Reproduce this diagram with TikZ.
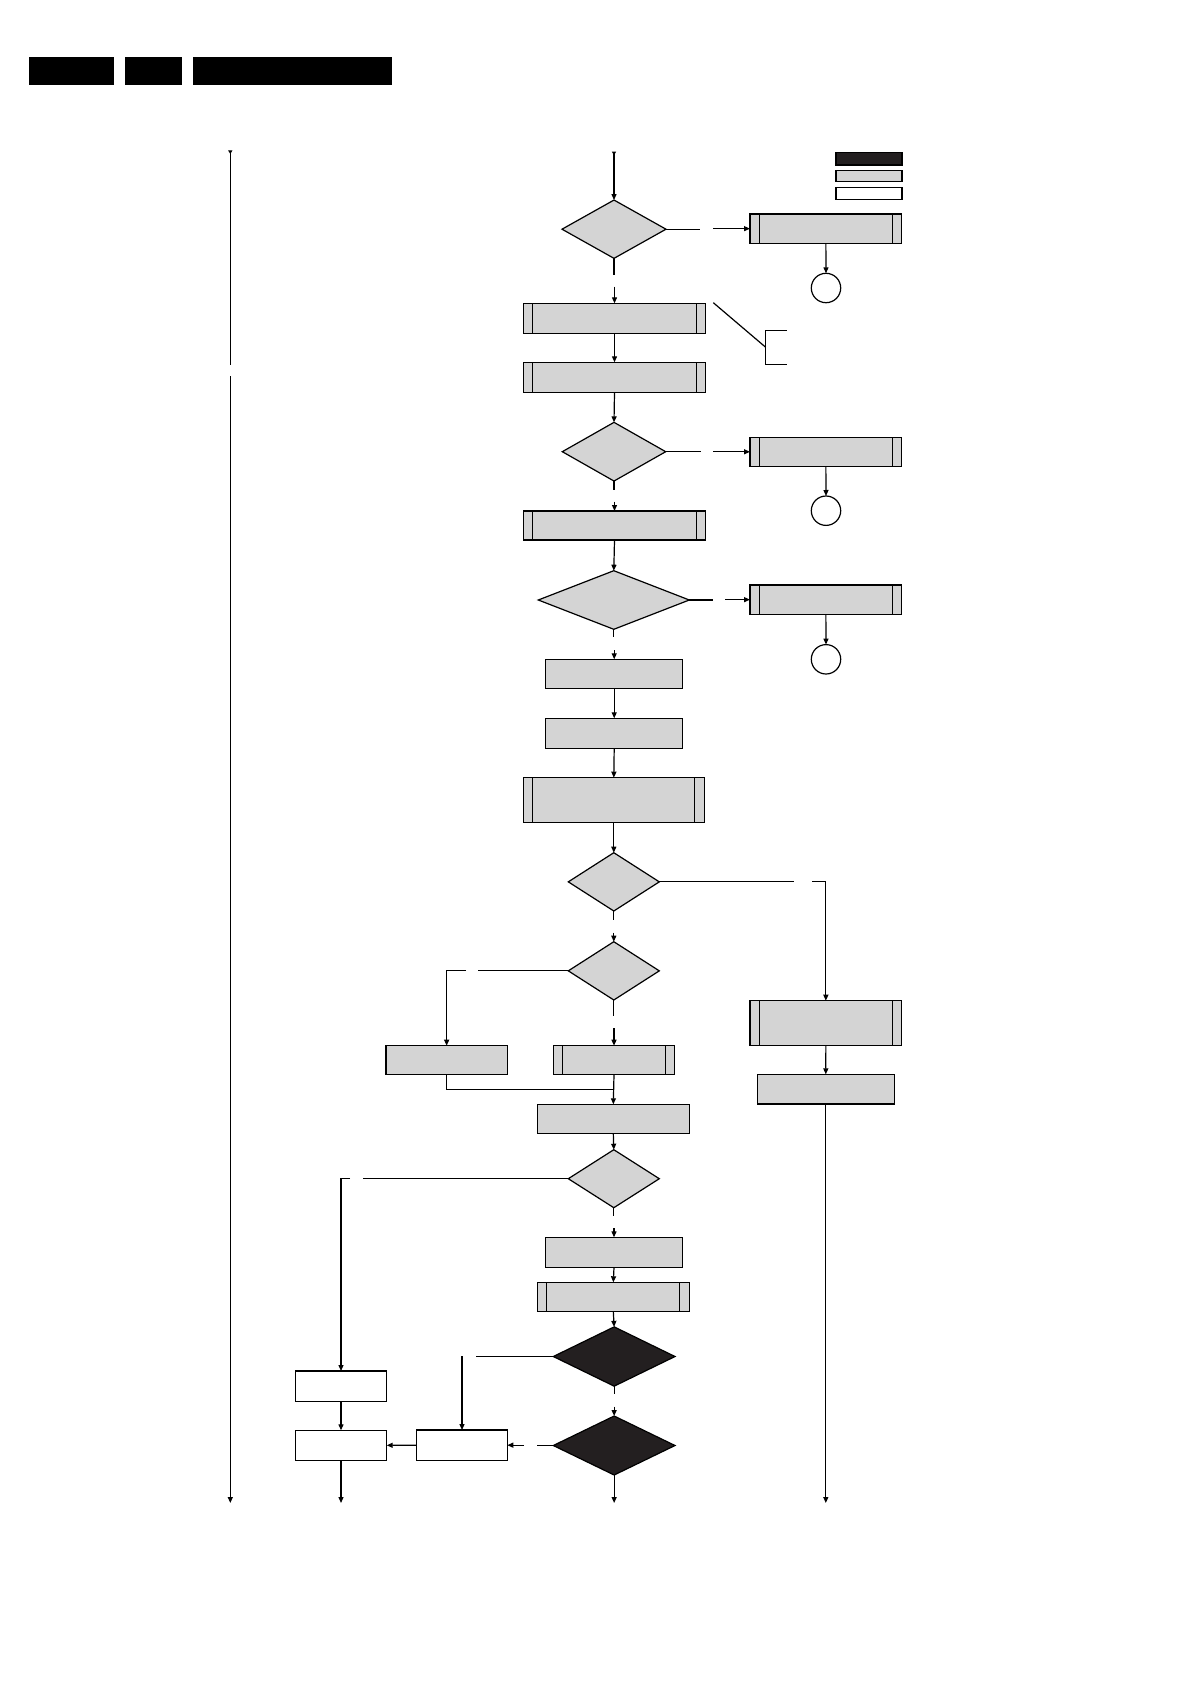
\documentclass[tikz,border=0pt]{standalone}
\usetikzlibrary{shapes.geometric,arrows.meta}
\definecolor{boxgray}{RGB}{212,212,212}
\definecolor{diadark}{RGB}{35,31,32}
\begin{document}
\begin{tikzpicture}[x=1pt,y=-1pt,line width=1.2pt,
  every node/.style={inner sep=0pt,outer sep=0pt},
  sz/.style 2 args={minimum width=#1pt,minimum height=#2pt},
  gbox/.style={draw,fill=boxgray,rectangle},
  wbox/.style={draw,fill=white,rectangle},
  pp/.style={gbox,path picture={\draw[line width=1.2pt]
      ([xshift=9.5pt]path picture bounding box.north west) -- ([xshift=9.5pt]path picture bounding box.south west)
      ([xshift=-9.5pt]path picture bounding box.north east) -- ([xshift=-9.5pt]path picture bounding box.south east);}},
  dia/.style={diamond,draw,fill=boxgray},
  bdia/.style={diamond,draw,fill=diadark},
  circ/.style={circle,draw,fill=white,minimum size=29.4pt},
  arr/.style={-{Triangle[length=6pt,width=5pt]}},
  tarr/.style={{Triangle[length=3.5pt,width=4pt,reversed]}-{Triangle[length=6pt,width=5pt]}},
  tline/.style={{Triangle[length=3.5pt,width=4pt,reversed]}-}
]
\useasboundingbox (0,0) rectangle (1192,1685);
% header bars
\node[fill=black,sz={85}{28.3}] (h1) at (71.5,70.85) {};
\node[fill=black,sz={57}{28.3}] (h2) at (153.5,70.85) {};
\node[fill=black,sz={199}{28.3}] (h3) at (292.5,70.85) {};
% legend
\node[draw,fill=diadark,sz={66}{12.7}] (legB) at (869,158.7) {};
\node[gbox,sz={66}{11.4}] (legG) at (869,176) {};
\node[wbox,sz={66}{12}] (legW) at (869,193.3) {};
% main column
\node[dia,sz={104}{58.3}] (d1) at (614,229.2) {};
\node[pp,sz={151.7}{29.3}] (r1) at (825.85,228.65) {};
\node[circ] (c1) at (826,288) {};
\node[pp,sz={182.4}{30}] (A) at (614.5,318.3) {};
\node[pp,sz={182.4}{30}] (B) at (614.5,377.3) {};
\node[dia,sz={103.4}{58.7}] (d2) at (614,451.7) {};
\node[pp,sz={151.7}{29}] (r2) at (825.85,451.8) {};
\node[circ] (c2) at (826,510.7) {};
\node[pp,sz={182.4}{29}] (C) at (614.5,525.5) {};
\node[dia,sz={151}{58.6}] (d3) at (613.8,600) {};
\node[pp,sz={151.7}{29.3}] (r3) at (825.85,599.65) {};
\node[circ] (c3) at (826,659.3) {};
\node[gbox,sz={137}{29}] (D) at (614.2,673.8) {};
\node[gbox,sz={137}{30}] (E) at (614.2,733.3) {};
\node[pp,sz={181}{44.6}] (F) at (613.8,800) {};
\node[dia,sz={91}{58.3}] (d4) at (613.8,881.85) {};
\node[dia,sz={91}{58.3}] (d5) at (613.8,970.85) {};
\node[pp,sz={151.7}{44.6}] (G) at (825.85,1023) {};
\node[gbox,sz={137}{29.7}] (I) at (825.8,1089.2) {};
\node[pp,sz={121.4}{28.6}] (H) at (614,1060) {};
\node[gbox,sz={121.3}{28.6}] (J) at (446.65,1060) {};
\node[gbox,sz={152}{29}] (K) at (613.3,1118.8) {};
\node[dia,sz={91}{58}] (d6) at (613.8,1178.7) {};
\node[gbox,sz={137.4}{30}] (M) at (614,1252.3) {};
\node[pp,sz={152}{29}] (N) at (613.3,1296.8) {};
\node[bdia,sz={121.7}{59.3}] (d7) at (614.15,1356.5) {};
\node[bdia,sz={121.7}{59}] (d8) at (614.15,1445.5) {};
\node[wbox,sz={91.4}{30.7}] (L) at (341,1386.35) {};
\node[wbox,sz={91.4}{30}] (P) at (341,1445.3) {};
\node[wbox,sz={90.6}{30.3}] (O) at (462,1445.15) {};
% coordinates
\coordinate (Ltop) at (230.3,150.5);
\coordinate (Lm1) at (230.3,365);
\coordinate (Lm2) at (230.3,376);
\coordinate (Lbot) at (230.3,1503);
\coordinate (Mtop) at (614,151.7);
\coordinate (g1) at (812.3,881.85);
\coordinate (j1) at (466,970.85);
\coordinate (mrg) at (614,1089.3);
\coordinate (l1) at (350,1178.7);
\coordinate (o1) at (462.7,1356.5);
\coordinate (Ibot) at (825.8,1503);
\coordinate (Pbot) at (341,1503);
\coordinate (Mbot) at (614.15,1503);
\coordinate (dg1) at (713.3,302.7);
\coordinate (dg2) at (765.7,347.3);
\coordinate (bk1) at (786.7,330.7);
\coordinate (bk2) at (786.7,364.3);
% left line
\draw[tline] (Ltop) -- (Lm1);
\draw[arr] (Lm2) -- (Lbot);
% connectors
\draw[tarr] (Mtop) -- (d1.north);
\draw (d1.east) -- ([xshift=34.3pt]d1.east);
\draw[arr] ([xshift=-36.7pt]r1.west) -- (r1.west);
\draw[arr] (r1.south) -- (c1.north);
\draw (d1.south) -- ([yshift=-16.7pt]d1.south);
\draw[arr] ([yshift=16.6pt]A.north) -- (A.north);
\draw[arr] (A.south) -- (B.north);
\draw[arr] (B.south) -- (d2.north);
\draw (d2.east) -- ([xshift=35.3pt]d2.east);
\draw[arr] ([xshift=-36.7pt]r2.west) -- (r2.west);
\draw[arr] (r2.south) -- (c2.north);
\draw (d2.south) -- ([yshift=-9pt]d2.south);
\draw[arr] ([yshift=9.3pt]C.north) -- (C.north);
\draw[arr] (C.south) -- (d3.north);
\draw (d3.east) -- ([xshift=23.4pt]d3.east);
\draw[arr] ([xshift=-25pt]r3.west) -- (r3.west);
\draw[arr] (r3.south) -- (c3.north);
\draw (d3.south) -- ([yshift=-8pt]d3.south);
\draw[arr] ([yshift=9.3pt]D.north) -- (D.north);
\draw[arr] (D.south) -- (E.north);
\draw[arr] (E.south) -- (F.north);
\draw[arr] (F.south) -- (d4.north);
\draw (d4.east) -- ([xshift=135pt]d4.east);
\draw[arr] (g1) -| (G.north);
\draw (d4.south) -- ([yshift=-9pt]d4.south);
\draw[arr] ([yshift=9pt]d5.north) -- (d5.north);
\draw (d5.west) -- ([xshift=-90.5pt]d5.west);
\draw[arr] (j1) -| (J.north);
\draw (d5.south) -- ([yshift=-15.7pt]d5.south);
\draw[arr] ([yshift=17.4pt]H.north) -- (H.north);
\draw (J.south) |- (mrg);
\draw[arr] (H.south) -- (K.north);
\draw[arr] (G.south) -- (I.north);
\draw[arr] (I.south) -- (Ibot);
\draw[arr] (K.south) -- (d6.north);
\draw (d6.west) -- ([xshift=-205pt]d6.west);
\draw[arr] (l1) -| (L.north);
\draw (d6.south) -- ([yshift=-8.4pt]d6.south);
\draw[arr] ([yshift=9pt]M.north) -- (M.north);
\draw[arr] (M.south) -- (N.north);
\draw[arr] (N.south) -- (d7.north);
\draw (d7.west) -- ([xshift=-77.3pt]d7.west);
\draw[arr] (o1) -| (O.north);
\draw (d7.south) -- ([yshift=-8pt]d7.south);
\draw[arr] ([yshift=9.3pt]d8.north) -- (d8.north);
\draw (d8.west) -- ([xshift=-16.6pt]d8.west);
\draw[arr] ([xshift=16.7pt]O.east) -- (O.east);
\draw[arr] (O.west) -- (P.east);
\draw[arr] (L.south) -- (P.north);
\draw[arr] (P.south) -- (Pbot);
\draw[arr] (d8.south) -- (Mbot);
% annotation bracket
\draw (dg1) -- (dg2);
\draw (bk1) -| (dg2 |- bk2) -- (bk2);
\end{tikzpicture}
\end{document}
